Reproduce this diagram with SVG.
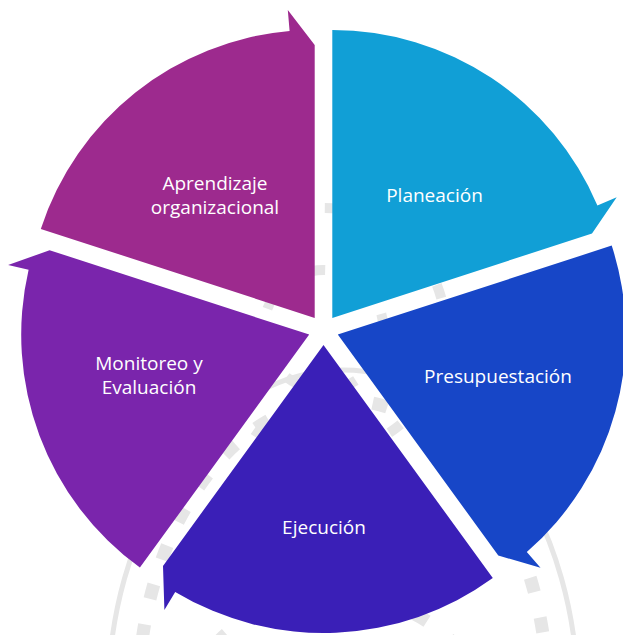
<svg xmlns="http://www.w3.org/2000/svg" width="623" height="635" viewBox="0 0 623 635">
  <style>
    .lbl { font-family: "Open Sans", "Noto Sans", "Liberation Sans", sans-serif; font-size: 19px; fill: #ffffff; text-anchor: middle; }
    .wm { fill: none; stroke: #E6E6E6; }
  </style>
  <rect width="623" height="635" fill="#ffffff"/>
  <g id="watermark">
    <ellipse class="wm" cx="343" cy="700" rx="235" ry="330" stroke-width="5"/>
    <ellipse class="wm" cx="343" cy="700" rx="205" ry="300" stroke-width="13" stroke-dasharray="15 26"/>
    <ellipse class="wm" cx="335" cy="720" rx="150" ry="125" stroke-width="13" stroke-dasharray="15 28"/>
    <circle class="wm" cx="323.5" cy="330" r="60" stroke-width="10" stroke-dasharray="14 16"/>
    <circle class="wm" cx="323.5" cy="330" r="122" stroke-width="10" stroke-dasharray="14 22"/>
  </g>
  <g id="planeacion">
    <path d="M332.3,317.9 L332.3,29.9 A288,288 0 0 1 597.4,205.4 L616.7,197.2 L592.0,233.5 Z" fill="#119FD6"/>
    <text class="lbl" x="434.5" y="202">Planeación</text>
  </g>
  <g id="presupuestacion">
    <path d="M337.8,334.6 L611.7,245.6 A288,288 0 0 1 526.8,552.0 L540.5,567.8 L498.3,555.5 Z" fill="#1746C7"/>
    <text class="lbl" x="498" y="383">Presupuestación</text>
  </g>
  <g id="ejecucion">
    <path d="M323.5,345 L492.8,578.0 A288,288 0 0 1 175.2,591.9 L164.4,609.9 L163.0,565.9 Z" fill="#3A1FB7"/>
    <text class="lbl" x="324" y="534">Ejecución</text>
  </g>
  <g id="monitoreo">
    <path d="M309.2,334.6 L139.9,567.6 A288,288 0 0 1 28.6,269.8 L8.1,265.1 L49.6,250.2 Z" fill="#7A25AC"/>
    <text class="lbl"><tspan x="149" y="370">Monitoreo y</tspan><tspan x="149" y="394">Evaluación</tspan></text>
  </g>
  <g id="aprendizaje">
    <path d="M314.7,317.9 L40.8,228.9 A288,288 0 0 1 289.6,31.0 L287.8,10.1 L314.7,44.9 Z" fill="#9D2A8E"/>
    <text class="lbl"><tspan x="215" y="190">Aprendizaje</tspan><tspan x="215" y="214">organizacional</tspan></text>
  </g>
</svg>
